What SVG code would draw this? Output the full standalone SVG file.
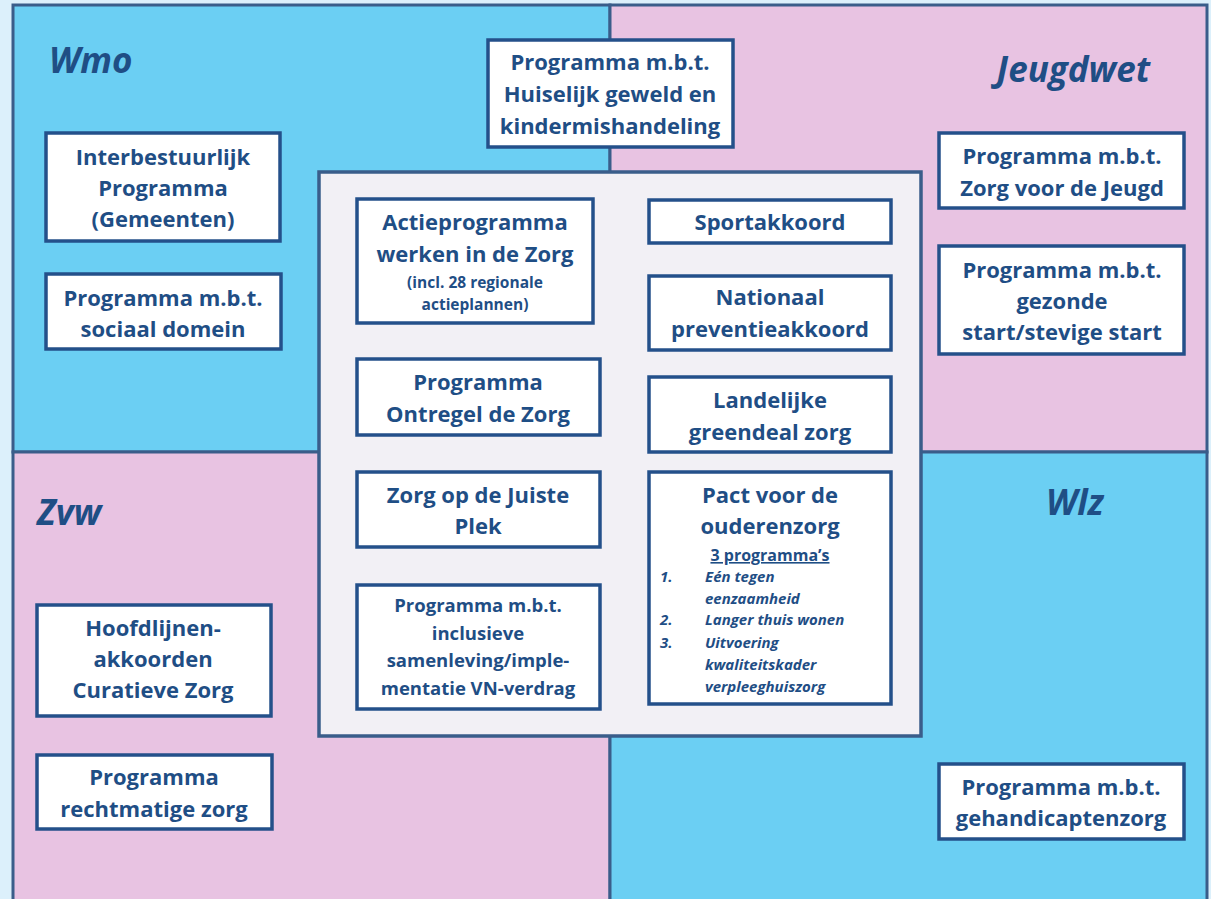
<svg xmlns="http://www.w3.org/2000/svg" width="1211" height="899" viewBox="0 0 1211 899">
<style>
.q{stroke:#3a5d8a;stroke-width:3}
.blue{fill:#6bcff3}
.pink{fill:#e8c3e2}
.box{fill:#ffffff;stroke:#24508a;stroke-width:3.5}
text{font-family:"Open Sans",Lato,"Liberation Sans",sans-serif;fill:#1f4e85;font-weight:bold}
.t{font-size:22px;text-anchor:middle}
.s{font-size:15.5px;text-anchor:middle}
.h{font-size:35px;font-style:italic}
.i{font-size:15px;font-style:italic}
</style>
<rect x="0" y="0" width="1211" height="899" fill="#dcf0fb"/>
<g id="quadrants">
<rect class="q blue" x="13" y="5" width="597" height="447"/>
<rect class="q pink" x="610" y="5" width="597" height="447"/>
<rect class="q pink" x="13" y="452" width="597" height="449"/>
<rect class="q blue" x="610" y="452" width="597" height="449"/>
<text class="h" x="49" y="73">Wmo</text>
<text class="h" x="1150" y="82" text-anchor="end">Jeugdwet</text>
<text class="h" x="37" y="525">Zvw</text>
<text class="h" x="1046" y="515">Wlz</text>
</g>
<g id="center">
<rect x="319" y="172" width="602" height="564" fill="#f2f0f5" stroke="#3a5d8a" stroke-width="3.5"/>
</g>
<g id="huiselijk">
<rect class="box" x="488" y="40" width="245" height="107"/>
<text class="t" x="610" y="70">Programma m.b.t.</text>
<text class="t" x="610" y="102">Huiselijk geweld en</text>
<text class="t" x="610" y="134">kindermishandeling</text>
</g>
<g id="interbestuurlijk">
<rect class="box" x="46" y="133" width="234" height="108"/>
<text class="t" x="163" y="165">Interbestuurlijk</text>
<text class="t" x="163" y="196">Programma</text>
<text class="t" x="163" y="227">(Gemeenten)</text>
</g>
<g id="sociaal">
<rect class="box" x="46" y="274" width="235" height="75"/>
<text class="t" x="163" y="306">Programma m.b.t.</text>
<text class="t" x="163" y="337">sociaal domein</text>
</g>
<g id="jeugd">
<rect class="box" x="939" y="133" width="245" height="75"/>
<text class="t" x="1062" y="164">Programma m.b.t.</text>
<text class="t" x="1062" y="196">Zorg voor de Jeugd</text>
</g>
<g id="gezonde">
<rect class="box" x="939" y="246" width="245" height="108"/>
<text class="t" x="1062" y="278">Programma m.b.t.</text>
<text class="t" x="1062" y="309">gezonde</text>
<text class="t" x="1062" y="340">start/stevige start</text>
</g>
<g id="actieprogramma">
<rect class="box" x="357" y="199" width="236" height="124"/>
<text class="t" x="475" y="230">Actieprogramma</text>
<text class="t" x="475" y="262">werken in de Zorg</text>
<text class="s" x="475" y="288">(incl. 28 regionale</text>
<text class="s" x="475" y="310">actieplannen)</text>
</g>
<g id="sportakkoord">
<rect class="box" x="649" y="200" width="242" height="43"/>
<text class="t" x="770" y="230">Sportakkoord</text>
</g>
<g id="preventieakkoord">
<rect class="box" x="649" y="276" width="242" height="74"/>
<text class="t" x="770" y="305">Nationaal</text>
<text class="t" x="770" y="337">preventieakkoord</text>
</g>
<g id="greendeal">
<rect class="box" x="649" y="377" width="242" height="75"/>
<text class="t" x="770" y="408">Landelijke</text>
<text class="t" x="770" y="440">greendeal zorg</text>
</g>
<g id="ontregel">
<rect class="box" x="357" y="359" width="243" height="76"/>
<text class="t" x="478" y="390">Programma</text>
<text class="t" x="478" y="422">Ontregel de Zorg</text>
</g>
<g id="juisteplek">
<rect class="box" x="357" y="472" width="243" height="75"/>
<text class="t" x="478" y="503">Zorg op de Juiste</text>
<text class="t" x="478" y="534">Plek</text>
</g>
<g id="inclusieve">
<rect class="box" x="357" y="585" width="243" height="124"/>
<text class="s" x="478" y="612" style="font-size:18.5px">Programma m.b.t.</text>
<text class="s" x="478" y="640" style="font-size:18.5px">inclusieve</text>
<text class="s" x="478" y="667" style="font-size:18.5px">samenleving/imple-</text>
<text class="s" x="478" y="695" style="font-size:18.5px">mentatie VN-verdrag</text>
</g>
<g id="pact">
<rect class="box" x="649" y="472" width="242" height="232"/>
<text class="t" x="770" y="503">Pact voor de</text>
<text class="t" x="770" y="534">ouderenzorg</text>
<text class="s" x="770" y="561" style="font-size:16px;text-decoration:underline">3 programma’s</text>
<text class="i" x="660" y="582">1.</text>
<text class="i" x="705" y="582">Eén tegen</text>
<text class="i" x="705" y="604">eenzaamheid</text>
<text class="i" x="660" y="625">2.</text>
<text class="i" x="705" y="625">Langer thuis wonen</text>
<text class="i" x="660" y="648">3.</text>
<text class="i" x="705" y="648">Uitvoering</text>
<text class="i" x="705" y="670">kwaliteitskader</text>
<text class="i" x="705" y="692">verpleeghuiszorg</text>
</g>
<g id="hoofdlijnen">
<rect class="box" x="37" y="605" width="234" height="111"/>
<text class="t" x="153" y="636">Hoofdlijnen-</text>
<text class="t" x="153" y="667">akkoorden</text>
<text class="t" x="153" y="698">Curatieve Zorg</text>
</g>
<g id="rechtmatige">
<rect class="box" x="37" y="755" width="235" height="74"/>
<text class="t" x="154" y="785">Programma</text>
<text class="t" x="154" y="817">rechtmatige zorg</text>
</g>
<g id="gehandicapten">
<rect class="box" x="939" y="764" width="245" height="75"/>
<text class="t" x="1061" y="795">Programma m.b.t.</text>
<text class="t" x="1061" y="826">gehandicaptenzorg</text>
</g>
<g id="connectors"></g>
</svg>
